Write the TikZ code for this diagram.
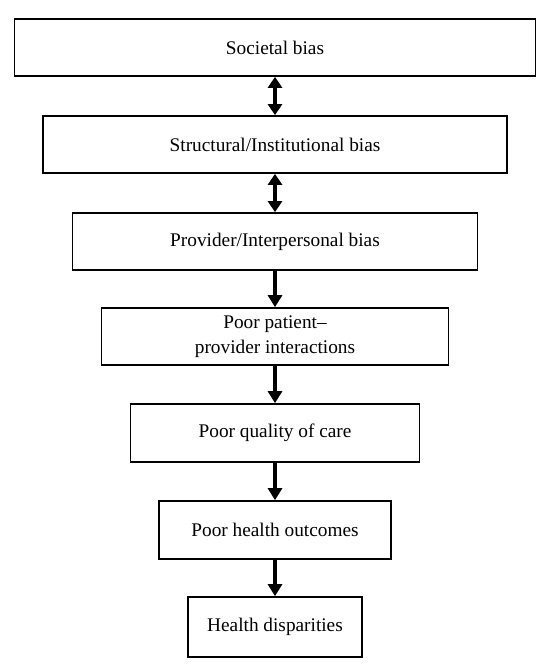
\documentclass[tikz,border=0pt]{standalone}
\usepackage{fontspec}
\setmainfont{Liberation Serif}
\usetikzlibrary{arrows.meta}
\begin{document}
\begin{tikzpicture}[x=1pt,y=-1pt,
  box/.style={draw=black, line width=1.7pt, fill=white, inner sep=0pt, align=center,
    font=\fontsize{19.3}{25}\selectfont},
  flow/.style={line width=4.5pt, -{Triangle[width=14pt,length=12pt]}},
  both/.style={line width=4.5pt, {Triangle[width=14pt,length=11pt]}-{Triangle[width=14pt,length=11pt]}}]
\useasboundingbox (0,0) rectangle (550,668);
\node[box, minimum width=521pt, minimum height=57pt] (b1) at (275,47.5) {Societal bias};
\node[box, minimum width=464pt, minimum height=57pt] (b2) at (275,144.5) {Structural/Institutional bias};
\node[box, minimum width=405pt, minimum height=57pt] (b3) at (275,241.5) {Provider/Interpersonal bias};
\node[box, minimum width=347pt, minimum height=57pt] (b4) at (275,336.5) {Poor patient–\\provider interactions};
\node[box, minimum width=289pt, minimum height=58pt] (b5) at (275,433) {Poor quality of care};
\node[box, minimum width=232pt, minimum height=58pt] (b6) at (275,530) {Poor health outcomes};
\node[box, minimum width=174pt, minimum height=60pt] (b7) at (275,627) {Health disparities};
\draw[both] (b1.south) -- (b2.north);
\draw[both] (b2.south) -- (b3.north);
\draw[flow] (b3.south) -- (b4.north);
\draw[flow] (b4.south) -- (b5.north);
\draw[flow] (b5.south) -- (b6.north);
\draw[flow] (b6.south) -- (b7.north);
\end{tikzpicture}
\end{document}
